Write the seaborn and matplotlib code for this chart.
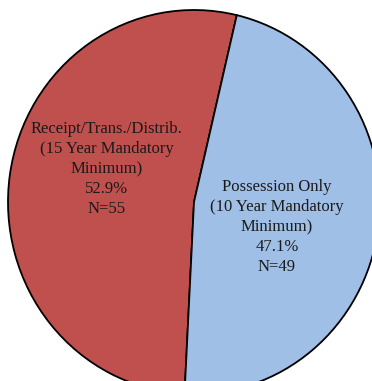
import matplotlib
matplotlib.use("Agg")
from matplotlib import pyplot as plt
import seaborn as sns

# data
categories = ["Receipt/Trans./Distrib.\n(15 Year Mandatory\nMinimum)",
              "Possession Only\n(10 Year Mandatory\nMinimum)"]
counts = [55, 49]
slice_colors = ["#C0504D", "#A0BFE6"]

sns.set_theme(style="white")
plt.rcParams['font.family'] = ['Liberation Serif', 'DejaVu Serif']

fig = plt.figure(figsize=(3.72, 3.81), dpi=100)
ax = fig.add_axes([0, 0, 1, 1])

total = sum(counts)
wedges, _ = ax.pie(counts, colors=sns.color_palette(slice_colors),
                   startangle=76.7, counterclock=True,
                   wedgeprops=dict(edgecolor="black", linewidth=1.3))

# label text for each slice
label_pos = [(-0.468, 0.172), (0.446, -0.130)]
for cat, n, (x, y) in zip(categories, counts, label_pos):
    txt = f"{cat}\n{100 * n / total:.1f}%\nN={n}"
    ax.text(x, y, txt, ha="center", va="center", fontsize=12,
            linespacing=1.32, color="#1a1a1a")

# crop like the original (circle runs off right and bottom,
# and is a touch taller than wide)
rx_px, ry_px = 186, 192
cx, cy = 194, 202
ax.set_xlim(-cx / rx_px, (372 - cx) / rx_px)
ax.set_ylim((cy - 381) / ry_px, cy / ry_px)
ax.set_aspect("auto")
ax.axis("off")

fig.savefig("out.png", dpi=100)
